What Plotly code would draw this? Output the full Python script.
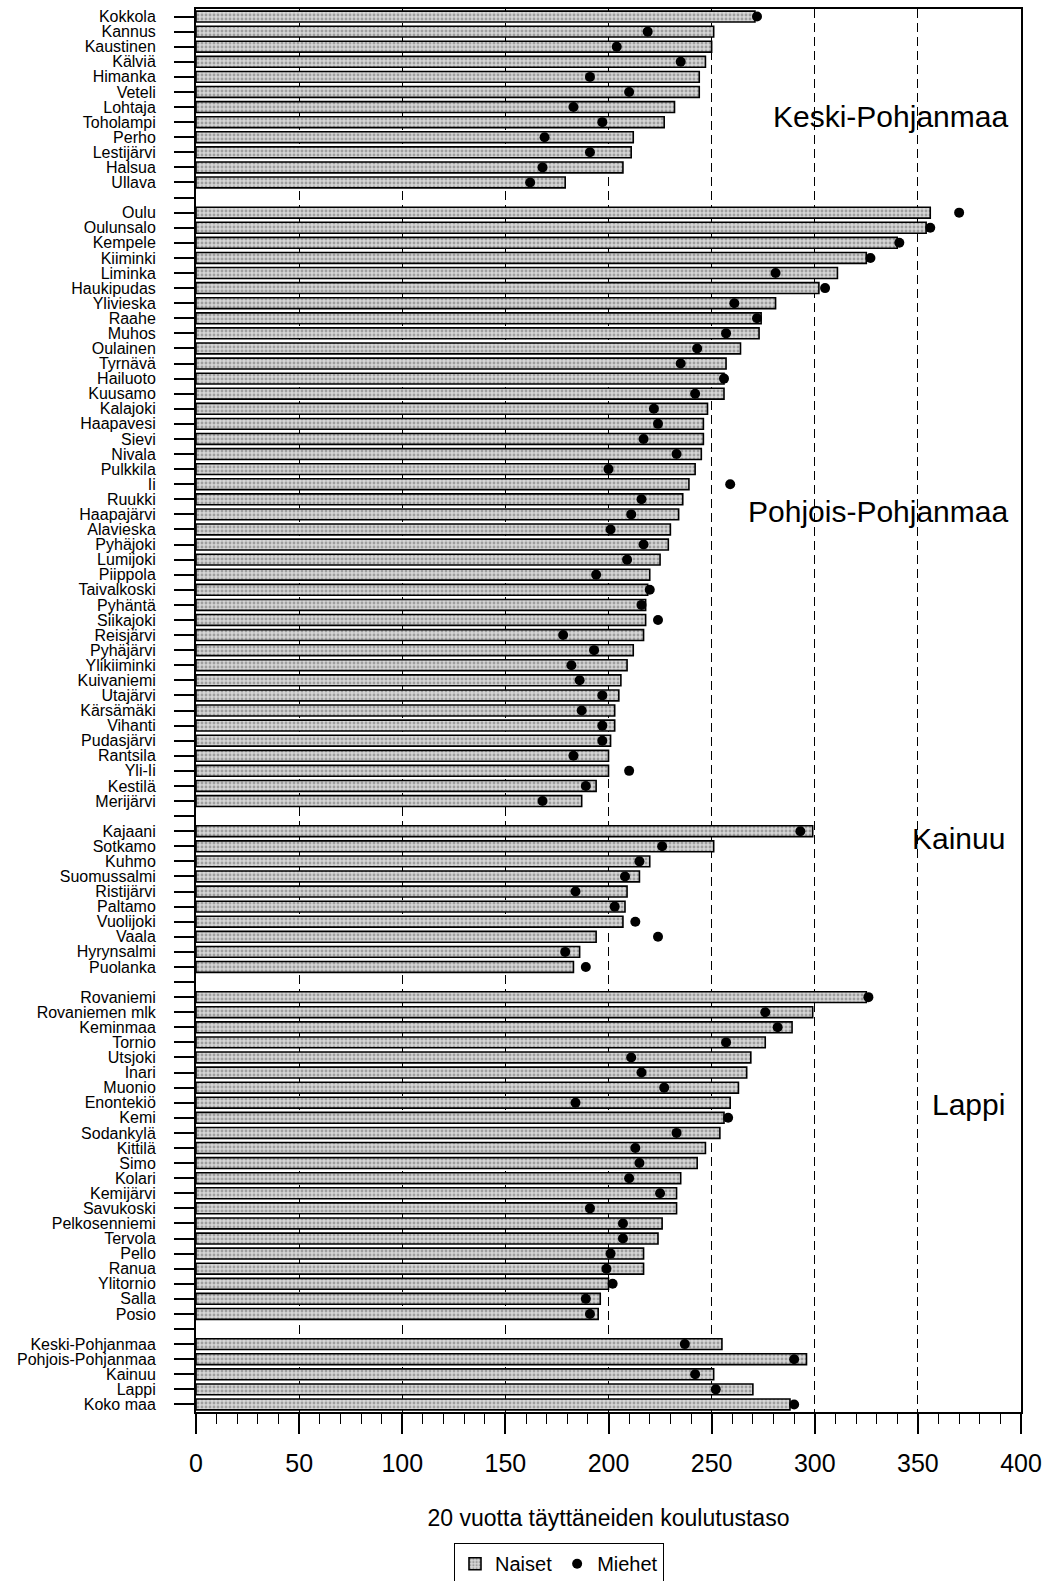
import plotly.graph_objects as go

# ---------------- data ----------------
kp_names = ["Kokkola", "Kannus", "Kaustinen", "Kälviä", "Himanka", "Veteli", "Lohtaja",
            "Toholampi", "Perho", "Lestijärvi", "Halsua", "Ullava"]
kp_naiset = [271, 251, 250, 247, 244, 244, 232, 227, 212, 211, 207, 179]
kp_miehet = [272, 219, 204, 235, 191, 210, 183, 197, 169, 191, 168, 162]

pp_names = ["Oulu", "Oulunsalo", "Kempele", "Kiiminki", "Liminka", "Haukipudas", "Ylivieska",
            "Raahe", "Muhos", "Oulainen", "Tyrnävä", "Hailuoto", "Kuusamo", "Kalajoki",
            "Haapavesi", "Sievi", "Nivala", "Pulkkila", "Ii", "Ruukki", "Haapajärvi",
            "Alavieska", "Pyhäjoki", "Lumijoki", "Piippola", "Taivalkoski", "Pyhäntä",
            "Siikajoki", "Reisjärvi", "Pyhäjärvi", "Ylikiiminki", "Kuivaniemi", "Utajärvi",
            "Kärsämäki", "Vihanti", "Pudasjärvi", "Rantsila", "Yli-Ii", "Kestilä", "Merijärvi"]
pp_naiset = [356, 354, 340, 325, 311, 302, 281, 274, 273, 264, 257, 256, 256, 248, 246, 246,
             245, 242, 239, 236, 234, 230, 229, 225, 220, 219, 218, 218, 217, 212, 209, 206,
             205, 203, 203, 201, 200, 200, 194, 187]
pp_miehet = [370, 356, 341, 327, 281, 305, 261, 272, 257, 243, 235, 256, 242, 222, 224, 217,
             233, 200, 259, 216, 211, 201, 217, 209, 194, 220, 216, 224, 178, 193, 182, 186,
             197, 187, 197, 197, 183, 210, 189, 168]

ka_names = ["Kajaani", "Sotkamo", "Kuhmo", "Suomussalmi", "Ristijärvi", "Paltamo",
            "Vuolijoki", "Vaala", "Hyrynsalmi", "Puolanka"]
ka_naiset = [299, 251, 220, 215, 209, 208, 207, 194, 186, 183]
ka_miehet = [293, 226, 215, 208, 184, 203, 213, 224, 179, 189]

la_names = ["Rovaniemi", "Rovaniemen mlk", "Keminmaa", "Tornio", "Utsjoki", "Inari", "Muonio",
            "Enontekiö", "Kemi", "Sodankylä", "Kittilä", "Simo", "Kolari", "Kemijärvi",
            "Savukoski", "Pelkosenniemi", "Tervola", "Pello", "Ranua", "Ylitornio", "Salla", "Posio"]
la_naiset = [325, 299, 289, 276, 269, 267, 263, 259, 256, 254, 247, 243, 235, 233, 233, 226,
             224, 217, 217, 200, 196, 195]
la_miehet = [326, 276, 282, 257, 211, 216, 227, 184, 258, 233, 213, 215, 210, 225, 191, 207,
             207, 201, 199, 202, 189, 191]

sum_names = ["Keski-Pohjanmaa", "Pohjois-Pohjanmaa", "Kainuu", "Lappi", "Koko maa"]
sum_naiset = [255, 296, 251, 270, 288]
sum_miehet = [237, 290, 242, 252, 290]

group_labels = ["Keski-Pohjanmaa", "Pohjois-Pohjanmaa", "Kainuu", "Lappi"]

# ---------------- assemble ----------------
groups = [(kp_names, kp_naiset, kp_miehet), (pp_names, pp_naiset, pp_miehet),
          (ka_names, ka_naiset, ka_miehet), (la_names, la_naiset, la_miehet),
          (sum_names, sum_naiset, sum_miehet)]

categories, names, naiset, miehet = [], [], [], []
for gi, (n, a, b) in enumerate(groups):
    if gi > 0:
        categories.append(" " * gi)   # empty spacer row
    categories += n
    names += n
    naiset += a
    miehet += b

FONT = "Liberation Sans, Arial, sans-serif"

fig = go.Figure()
fig.add_trace(go.Bar(
    y=names, x=naiset, orientation="h", name="Naiset", width=0.72,
    marker=dict(color="#cfcfcf",
                line=dict(color="black", width=1.6),
                pattern=dict(shape=".", fgcolor="#666666", bgcolor="#d6d6d6",
                             size=4, solidity=0.4)),
))
fig.add_trace(go.Scatter(
    y=names, x=miehet, mode="markers", name="Miehet",
    marker=dict(color="black", size=10, symbol="circle"),
))

# group annotations (positions are layout, in row-index units)
ann_rows = [categories.index("Lohtaja") + 0.6,
            categories.index("Haapajärvi") - 0.2,
            categories.index("Kajaani") + 0.5,
            categories.index("Enontekiö") + 0.1]
ann_x = [394.5, 394.5, 393, 393]
for lab, r, ax in zip(group_labels, ann_rows, ann_x):
    fig.add_annotation(x=ax, y=r, xref="x", yref="y", text=lab, showarrow=False,
                       xanchor="right", yanchor="middle",
                       font=dict(family=FONT, size=30, color="black"))

fig.update_layout(
    width=1046, height=1581,
    margin=dict(l=196, r=25, t=9, b=169, autoexpand=False),
    paper_bgcolor="white", plot_bgcolor="white",
    font=dict(family=FONT, color="black"),
    showlegend=True,
    legend=dict(orientation="h", x=0.44, xanchor="center", y=-0.0935, yanchor="top",
                bordercolor="black", borderwidth=1, bgcolor="white",
                font=dict(family=FONT, size=20), itemwidth=30, tracegroupgap=0),
)

fig.update_xaxes(
    range=[0, 400], dtick=50, tick0=0,
    showline=True, linecolor="black", linewidth=2, mirror=True,
    ticks="outside", ticklen=20, tickwidth=1.5, tickcolor="black",
    tickfont=dict(family=FONT, size=25), ticklabelstandoff=8,
    ticklabeloverflow="allow",
    showgrid=True, gridcolor="black", gridwidth=1.4, griddash="9px,5px",
    minor=dict(dtick=10, ticks="outside", ticklen=10, tickwidth=1.3,
               tickcolor="black", showgrid=False),
    zeroline=False,
    title=dict(text="20 vuotta täyttäneiden koulutustaso",
               font=dict(family=FONT, size=23), standoff=34),
    automargin=False,
)
fig.update_yaxes(
    type="category", categoryorder="array", categoryarray=categories,
    tickmode="array", tickvals=categories, ticktext=categories,
    range=[len(categories) - 0.5, -0.5],
    showline=True, linecolor="black", linewidth=2, mirror=True,
    ticks="outside", ticklen=20, tickwidth=1.6, tickcolor="black",
    tickfont=dict(family=FONT, size=16), ticklabelstandoff=15,
    showgrid=False, zeroline=False, automargin=False,
)

fig.write_html(
    "out.html",
    config={"displayModeBar": False},
    post_script="document.body.style.margin='0';"
                "document.documentElement.style.overflow='hidden';",
)
